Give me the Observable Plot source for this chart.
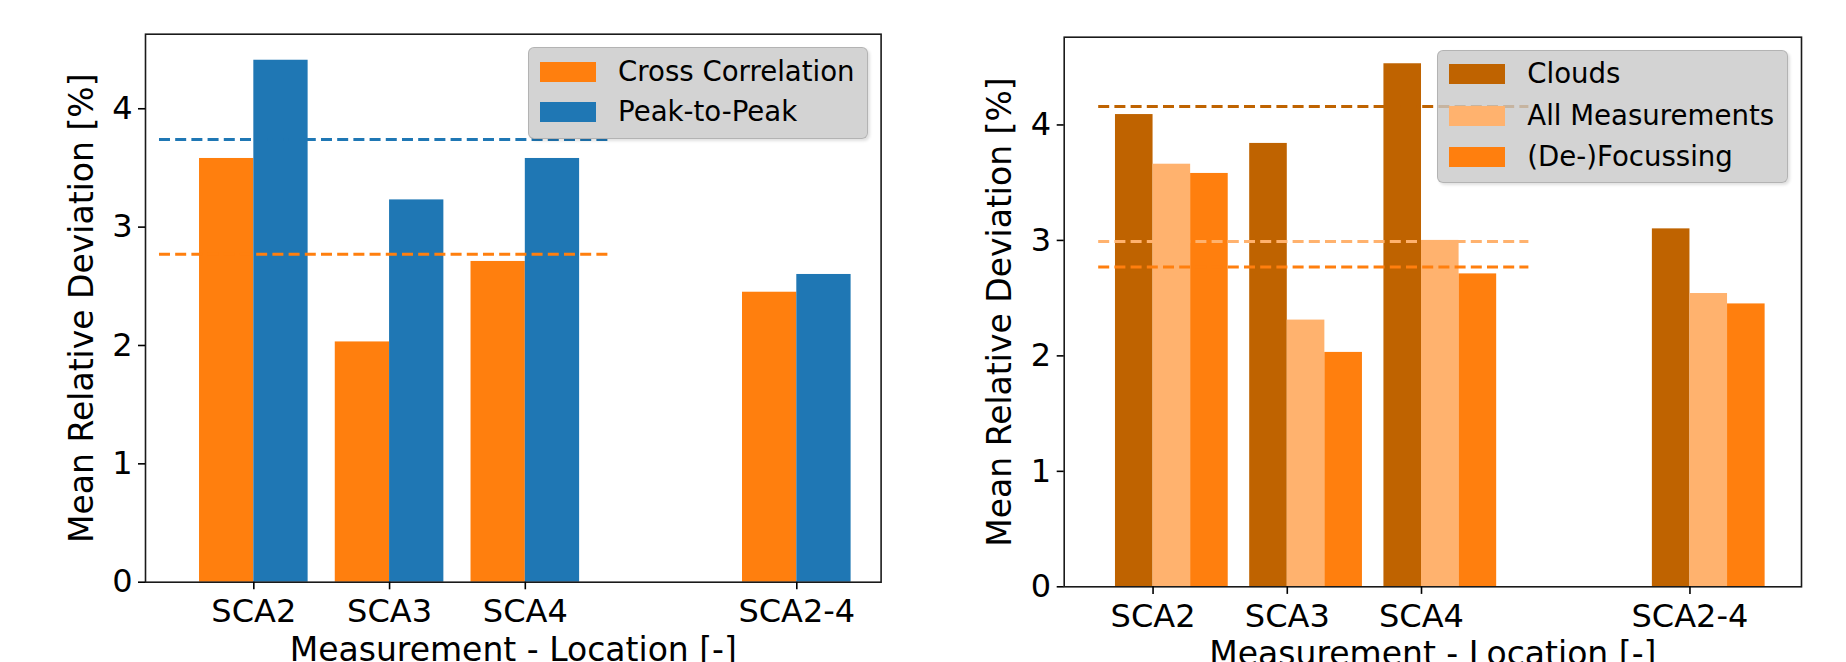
<!DOCTYPE html>
<html><head><meta charset="utf-8">
<script src="https://cdn.jsdelivr.net/npm/d3@7"></script>
<script src="https://cdn.jsdelivr.net/npm/@observablehq/plot@0.6"></script>
<style>
html,body{margin:0;padding:0;background:#fff;}
#page{position:relative;width:1846px;height:662px;overflow:hidden;font-family:"DejaVu Sans",sans-serif;}
.panel{position:absolute;top:0;}
.legend{position:absolute;background:rgba(200,200,200,0.8);border:1.5px solid rgba(175,175,175,0.9);border-radius:6px;box-sizing:border-box;box-shadow:2px 2px 3px rgba(0,0,0,0.12);}
.row{position:absolute;left:11px;height:30px;display:flex;align-items:center;}
.sw{width:56px;height:20px;flex:none;}
.lab{font-size:27.6px;line-height:30px;color:#000;margin-left:22px;white-space:nowrap;}
</style></head><body><div id="page"></div>
<script>
// ---- data ----
const locations = ["SCA2", "SCA3", "SCA4", "SCA2-4"];
const locationPositions = [0, 1, 2, 4];
const yTicks = [0, 1, 2, 3, 4];

// left panel
const crossCorrelation = [3.58, 2.03, 2.71, 2.45];
const peakToPeak = [4.41, 3.23, 3.58, 2.60];
const meanCrossCorrelation = 2.77;
const meanPeakToPeak = 3.74;
const leftMeanSpan = [-0.695, 2.64];

// right panel
const clouds = [4.09, 3.84, 4.53, 3.10];
const allMeasurements = [3.66, 2.31, 3.00, 2.54];
const deFocussing = [3.58, 2.03, 2.71, 2.45];
const meanClouds = 4.16;
const meanAllMeasurements = 2.99;
const meanDeFocussing = 2.77;
const rightMeanSpan = [-0.405, 2.80];

const xLabel = "Measurement - Location [-]";
const yLabel = "Mean Relative Deviation [%]";

// ---- styles ----
const C_ORANGE = "#ff7f0e", C_BLUE = "#1f77b4";
const C_CLOUDS = "#bf6300", C_ALL = "#ffb26e", C_DEFOC = "#ff7f0e";
const FONT = "DejaVu Sans";

function bars(values, offset, w) {
  return values.map((v, i) => ({
    x1: locationPositions[i] + offset,
    x2: locationPositions[i] + offset + w,
    value: v
  }));
}
const tickName = d => locations[locationPositions.indexOf(d)];

function commonMarks(dy) {
  return [
    Plot.frame({stroke: "#1a1a1a", strokeWidth: 1.6}),
    Plot.axisY({ticks: yTicks, tickSize: 7, tickPadding: 6, fontSize: 32, label: null, strokeWidth: 1.6, tickFormat: d => String(d)}),
    Plot.axisX({ticks: locationPositions, tickFormat: tickName, tickSize: 7.6, tickPadding: 9.5, fontSize: 32, label: null, strokeWidth: 1.6}),
    Plot.text([yLabel], {frameAnchor: "left", rotate: -90, dx: -53, fontSize: 33, textAnchor: "middle", lineAnchor: "bottom"}),
    Plot.text([xLabel], {frameAnchor: "bottom", dy: dy, fontSize: 33, lineAnchor: "bottom"})
  ];
}

const dash = {strokeWidth: 3, strokeDasharray: "11,5.2"};

const left = Plot.plot({
  width: 923, height: 662,
  marginLeft: 145, marginRight: 42.4, marginTop: 33.7, marginBottom: 80.3,
  x: {type: "linear", domain: [-0.798, 4.621]},
  y: {domain: [0, 4.63]},
  style: {fontFamily: FONT, background: "transparent", color: "#000", overflow: "hidden"},
  marks: [
    Plot.rect(bars(crossCorrelation, -0.4, 0.4), {x1: "x1", x2: "x2", y1: () => 0, y2: "value", fill: C_ORANGE}),
    Plot.rect(bars(peakToPeak, 0, 0.4), {x1: "x1", x2: "x2", y1: () => 0, y2: "value", fill: C_BLUE}),
    Plot.ruleY([meanPeakToPeak], {y: d => d, x1: () => leftMeanSpan[0], x2: () => leftMeanSpan[1], stroke: C_BLUE, ...dash}),
    Plot.ruleY([meanCrossCorrelation], {y: d => d, x1: () => leftMeanSpan[0], x2: () => leftMeanSpan[1], stroke: C_ORANGE, ...dash}),
    ...commonMarks(78.3)
  ]
});

const W = 0.28;
const right = Plot.plot({
  width: 923, height: 662,
  marginLeft: 140.7, marginRight: 45, marginTop: 36.7, marginBottom: 75.7,
  x: {type: "linear", domain: [-0.662, 4.831]},
  y: {domain: [0, 4.76]},
  style: {fontFamily: FONT, background: "transparent", color: "#000", overflow: "hidden"},
  marks: [
    Plot.rect(bars(clouds, -W, W), {x1: "x1", x2: "x2", y1: () => 0, y2: "value", fill: C_CLOUDS}),
    Plot.rect(bars(allMeasurements, 0, W), {x1: "x1", x2: "x2", y1: () => 0, y2: "value", fill: C_ALL}),
    Plot.rect(bars(deFocussing, W, W), {x1: "x1", x2: "x2", y1: () => 0, y2: "value", fill: C_DEFOC}),
    Plot.ruleY([meanClouds], {y: d => d, x1: () => rightMeanSpan[0], x2: () => rightMeanSpan[1], stroke: C_CLOUDS, ...dash}),
    Plot.ruleY([meanAllMeasurements], {y: d => d, x1: () => rightMeanSpan[0], x2: () => rightMeanSpan[1], stroke: C_ALL, ...dash}),
    Plot.ruleY([meanDeFocussing], {y: d => d, x1: () => rightMeanSpan[0], x2: () => rightMeanSpan[1], stroke: C_DEFOC, ...dash}),
    ...commonMarks(78.3)
  ]
});

const page = document.getElementById("page");
function place(node, x) {
  const d = document.createElement("div");
  d.className = "panel";
  d.style.left = x + "px";
  d.appendChild(node);
  page.appendChild(d);
}
place(left, 0);
place(right, 923);

function legend(x, y, w, h, items, centers) {
  const box = document.createElement("div");
  box.className = "legend";
  Object.assign(box.style, {left: x + "px", top: y + "px", width: w + "px", height: h + "px"});
  items.forEach(([label, color], i) => {
    const r = document.createElement("div");
    r.className = "row";
    r.style.top = (centers[i] - 15) + "px";
    const s = document.createElement("div");
    s.className = "sw"; s.style.background = color;
    const t = document.createElement("span");
    t.className = "lab"; t.textContent = label;
    r.appendChild(s); r.appendChild(t);
    box.appendChild(r);
  });
  page.appendChild(box);
}
legend(528, 46.7, 340, 92.3, [["Cross Correlation", C_ORANGE], ["Peak-to-Peak", C_BLUE]], [24, 64]);
legend(1437.3, 50, 351, 132.7, [["Clouds", C_CLOUDS], ["All Measurements", C_ALL], ["(De-)Focussing", C_DEFOC]], [23.3, 65, 105.7]);
</script>
</body></html>
